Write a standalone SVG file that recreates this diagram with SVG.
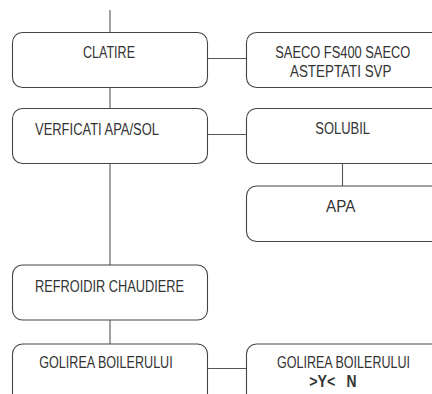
<svg xmlns="http://www.w3.org/2000/svg" width="432" height="394" viewBox="0 0 432 394">
<style>
.box{fill:#fff;stroke:#444;stroke-width:1.1}
.con{fill:none;stroke:#555;stroke-width:1.1}
.t{font-family:"Liberation Sans",Arial,sans-serif;font-size:16px;fill:#333}
.c{text-anchor:middle}
.b{font-weight:bold}
</style>
<rect width="432" height="394" fill="#fff"/>
<g id="connectors">
<line class="con" x1="110" y1="10" x2="110" y2="32.5"/>
<line class="con" x1="110" y1="87.5" x2="110" y2="108.5"/>
<line class="con" x1="110" y1="163.5" x2="110" y2="265"/>
<line class="con" x1="110" y1="320" x2="110" y2="344"/>
<line class="con" x1="207.5" y1="58.5" x2="246.5" y2="58.5"/>
<line class="con" x1="207.5" y1="134.5" x2="246.5" y2="134.5"/>
<line class="con" x1="342.5" y1="163.5" x2="342.5" y2="186"/>
<line class="con" x1="207.5" y1="368.5" x2="246.5" y2="368.5"/>
</g>
<g id="clatire">
<rect class="box" x="12.5" y="32.5" width="195" height="55" rx="10"/>
<text class="t" x="83" y="58.3" textLength="52" lengthAdjust="spacingAndGlyphs">CLATIRE</text>
</g>
<g id="saeco">
<rect class="box" x="246.5" y="32.5" width="200" height="55" rx="10"/>
<text class="t" x="275.3" y="58.3" textLength="135" lengthAdjust="spacingAndGlyphs">SAECO  FS400  SAECO</text>
<text class="t" x="290" y="76.7" textLength="101.5" lengthAdjust="spacingAndGlyphs">ASTEPTATI  SVP</text>
</g>
<g id="verficati">
<rect class="box" x="12.5" y="108.5" width="195" height="55" rx="10"/>
<text class="t" x="35" y="134.5" textLength="124" lengthAdjust="spacingAndGlyphs">VERFICATI  APA/SOL</text>
</g>
<g id="solubil">
<rect class="box" x="246.5" y="108.5" width="200" height="55" rx="10"/>
<text class="t" x="315.3" y="134.3" textLength="54.7" lengthAdjust="spacingAndGlyphs">SOLUBIL</text>
</g>
<g id="apa">
<rect class="box" x="246.5" y="186" width="200" height="55.5" rx="10"/>
<text class="t" x="326" y="212.3" textLength="29.3" lengthAdjust="spacingAndGlyphs">APA</text>
</g>
<g id="refroidir">
<rect class="box" x="12.5" y="265" width="195" height="55" rx="10"/>
<text class="t" x="35" y="291.7" textLength="149" lengthAdjust="spacingAndGlyphs">REFROIDIR  CHAUDIERE</text>
</g>
<g id="golirea-left">
<rect class="box" x="12.5" y="344" width="195" height="70" rx="10"/>
<text class="t" x="39.3" y="367.7" textLength="133.4" lengthAdjust="spacingAndGlyphs">GOLIREA BOILERULUI</text>
</g>
<g id="golirea-right">
<rect class="box" x="246.5" y="344" width="200" height="70" rx="10"/>
<text class="t" x="277" y="367.7" textLength="133" lengthAdjust="spacingAndGlyphs">GOLIREA BOILERULUI</text>
<text class="t b" x="309.3" y="386.7" textLength="26" lengthAdjust="spacingAndGlyphs">&gt;Y&lt;</text>
<text class="t b" x="346.5" y="386.7" textLength="10" lengthAdjust="spacingAndGlyphs">N</text>
</g>
</svg>
